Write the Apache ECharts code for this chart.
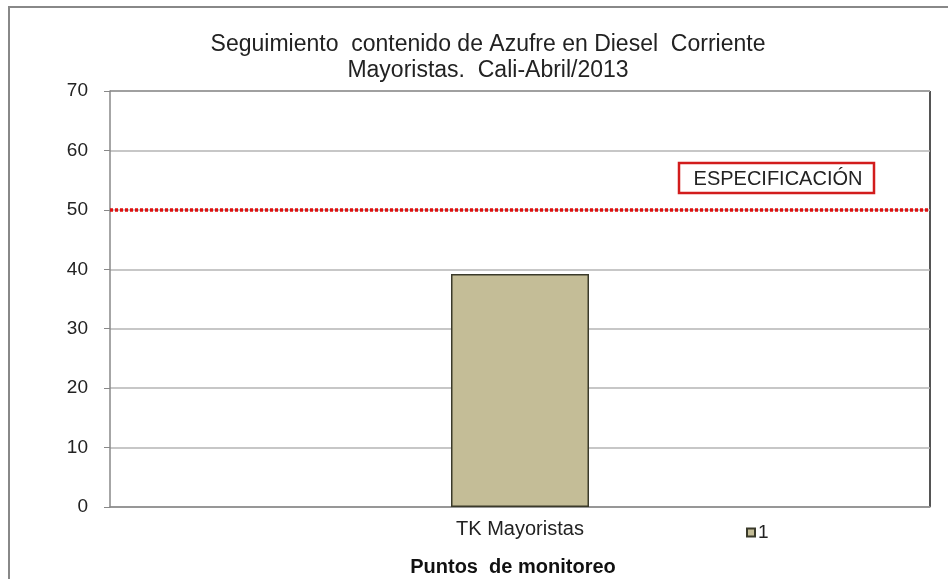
<!DOCTYPE html>
<html>
<head>
<meta charset="utf-8">
<script src="https://cdn.jsdelivr.net/npm/echarts@6/dist/echarts.min.js"></script>
<style>
  html, body { margin: 0; padding: 0; background: #fff; }
  #main { width: 948px; height: 579px; }
</style>
</head>
<body>
<div id="main"></div>
<script>
// datos
let categorias = ["TK Mayoristas"];
let valores = [39.2];
let especificacion = 50;
let serieNombre = "1";

let myChart = echarts.init(document.getElementById("main"));

let option = {
  animation: false,
  textStyle: { fontFamily: "Liberation Sans, Arial, sans-serif" },
  title: {
    text: "Seguimiento  contenido de Azufre en Diesel  Corriente\nMayoristas.  Cali-Abril/2013",
    left: 483,
    textAlign: "center",
    top: 27,
    textStyle: { fontSize: 23, fontWeight: "normal", color: "#222", lineHeight: 26 }
  },
  legend: {
    left: 741,
    top: 518,
    itemWidth: 8,
    itemHeight: 8,
    itemGap: 4,
    icon: "rect",
    textStyle: { fontSize: 19, color: "#222", padding: [0, 0, 0, -2] },
    data: [serieNombre]
  },
  grid: { left: 110, right: 18, top: 91, bottom: 72, outerBoundsMode: "none", containLabel: false },
  xAxis: {
    type: "category",
    data: categorias,
    name: "Puntos  de monitoreo",
    nameLocation: "middle",
    nameGap: 50,
    nameTextStyle: { fontSize: 20, fontWeight: "bold", color: "#111", padding: [0, 14, 0, 0] },
    axisLine: { lineStyle: { color: "#888", width: 1.5 } },
    axisTick: { show: false },
    axisLabel: { fontSize: 20, color: "#222", margin: 12 }
  },
  yAxis: {
    type: "value",
    min: 0,
    max: 70,
    interval: 10,
    axisLine: { show: true, lineStyle: { color: "#888", width: 1.5 } },
    axisTick: { show: true, length: 6, inside: false, lineStyle: { color: "#888" } },
    axisLabel: { fontSize: 19, color: "#222", margin: 22 },
    splitLine: { lineStyle: { color: "#b4b4b4", width: 1.5 } }
  },
  graphic: [
    {
      type: "rect",
      shape: { x: 9, y: 7, width: 1000, height: 700 },
      style: { fill: "none", stroke: "#888", lineWidth: 2 },
      silent: true
    },
    {
      type: "line",
      shape: { x1: 110, y1: 91, x2: 930, y2: 91 },
      style: { stroke: "#666", lineWidth: 2 }
    },
    {
      type: "line",
      shape: { x1: 930, y1: 91, x2: 930, y2: 507 },
      style: { stroke: "#555", lineWidth: 2 }
    },
    {
      type: "rect",
      shape: { x: 679, y: 163, width: 195, height: 30 },
      style: { fill: "#fff", stroke: "#d21c1c", lineWidth: 2.5 },
      z: 10
    },
    {
      type: "text",
      x: 778,
      y: 179,
      style: {
        text: "ESPECIFICACIÓN", fontSize: 20, fill: "#222",
        align: "center", verticalAlign: "middle",
        fontFamily: "Liberation Sans, Arial, sans-serif"
      },
      z: 11
    }
  ],
  series: [
    {
      name: serieNombre,
      type: "bar",
      data: valores,
      barWidth: 138,
      itemStyle: { color: "#c4bd97", borderColor: "#3a3a2a", borderWidth: 1.5 },
      markLine: {
        symbol: "none",
        silent: true,
        label: { show: false },
        lineStyle: { color: "#e01010", type: [3, 2], width: 3.5 },
        data: [{ yAxis: especificacion }]
      }
    }
  ]
};
myChart.setOption(option);
</script>
</body>
</html>
